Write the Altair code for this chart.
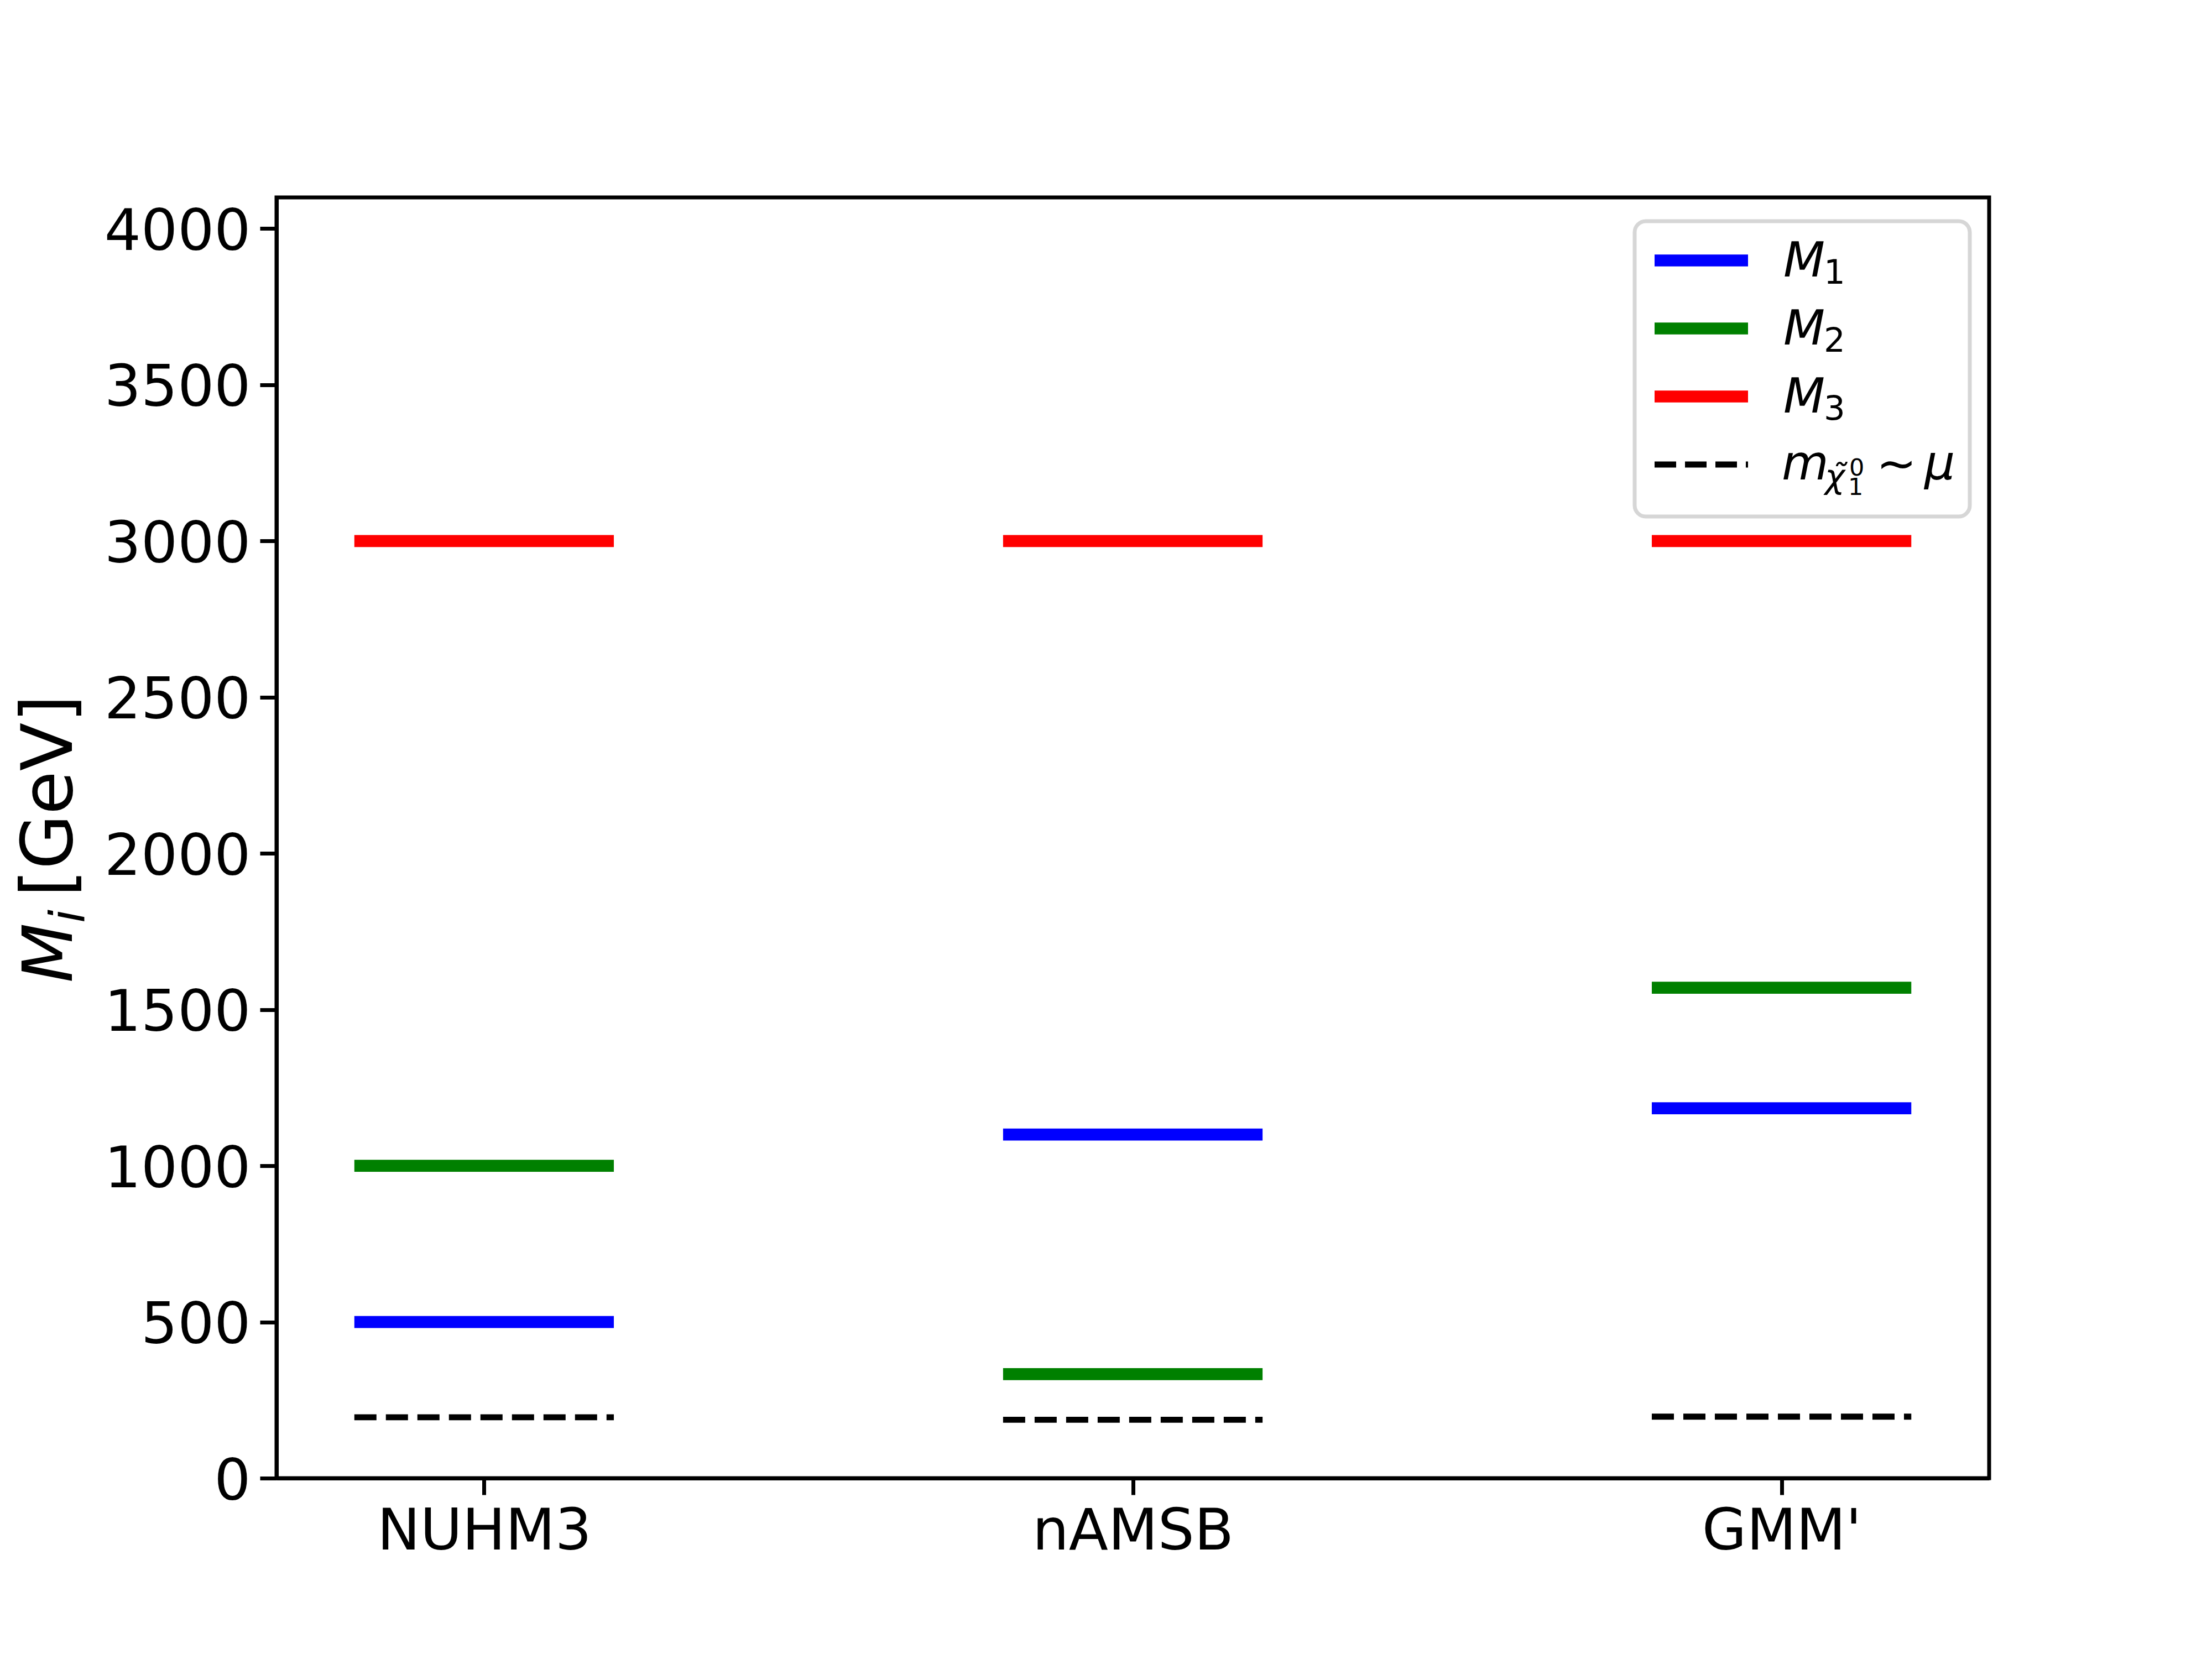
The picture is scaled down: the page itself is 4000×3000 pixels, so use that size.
import json
import pandas as pd
import altair as alt

# ---- data ----
models = ["NUHM3", "nAMSB", "GMM'"]
M1 = [500, 1100, 1184]
M2 = [1000, 333, 1570]
M3 = [3000, 3000, 3000]
mu = [195, 187, 197]

series_names = ["M1", "M2", "M3"]
series_colors = ["#0000ff", "#008000", "#ff0000"]

rows = []
for i, m in enumerate(models):
    for s, vals in zip(series_names, [M1, M2, M3]):
        rows.append({"model": m, "idx": i, "series": s, "value": vals[i]})
df_solid = pd.DataFrame(rows)
df_mu = pd.DataFrame({"model": models, "idx": list(range(len(models))), "value": mu})

FONT = "DejaVu Sans"
W, H = 3097, 2316
OX, OY = 500, 357  # page position of plot area (for decoration text)

xscale = alt.Scale(domain=[-0.32, 2.32], nice=False, zero=False)
yscale = alt.Scale(domain=[0, 4100], nice=False)

xaxis = alt.Axis(values=[0, 1, 2], labelExpr=json.dumps(models) + "[datum.value]",
                 title=None, grid=False, domainColor="black", domainWidth=7,
                 tickColor="black", tickWidth=7, tickSize=30, labelFont=FONT,
                 labelFontSize=104, labelColor="black", labelPadding=16,
                 labelFlush=False, labelOverlap=False, labelLimit=2000)
yaxis = alt.Axis(values=list(range(0, 4001, 500)), format="d", title=None, grid=False,
                 domainColor="black", domainWidth=7, tickColor="black", tickWidth=7,
                 tickSize=30, labelFont=FONT, labelFontSize=104, labelColor="black",
                 labelPadding=17, labelOffset=7, labelOverlap=False, labelFlush=False,
                 labelLimit=2000)

base = alt.Chart(df_solid).transform_calculate(
    xlo="datum.idx - 0.2", xhi="datum.idx + 0.2")

solid = base.mark_rule(strokeWidth=21.7).encode(
    x=alt.X("xlo:Q", scale=xscale, axis=xaxis),
    x2="xhi:Q",
    y=alt.Y("value:Q", scale=yscale, axis=yaxis),
    color=alt.Color("series:N", scale=alt.Scale(domain=series_names, range=series_colors),
                    legend=None),
)

dashed = alt.Chart(df_mu).transform_calculate(
    xlo="datum.idx - 0.2", xhi="datum.idx + 0.2"
).mark_rule(strokeWidth=10.85, strokeDash=[40, 17], color="black").encode(
    x=alt.X("xlo:Q", scale=xscale),
    x2="xhi:Q",
    y=alt.Y("value:Q", scale=yscale),
)

one = pd.DataFrame({"k": [0]})


def txt(s, px, py, size, italic=False, angle=0, align="left"):
    kw = dict(text=s, font=FONT, fontSize=size, color="black", align=align,
              baseline="alphabetic")
    if italic:
        kw["fontStyle"] = "italic"
    if angle:
        kw["angle"] = angle
    return alt.Chart(one).mark_text(**kw).encode(
        x=alt.value(px - OX), y=alt.value(py - OY))


def rule(x1, x2, py, color, width, dash=None):
    kw = dict(color=color, strokeWidth=width)
    if dash:
        kw["strokeDash"] = dash
    return alt.Chart(one).mark_rule(**kw).encode(
        x=alt.value(x1 - OX), x2=alt.value(x2 - OX), y=alt.value(py - OY))


legend_box = alt.Chart(one).mark_rect(
    fill="white", fillOpacity=0.8, stroke="#d6d6d6", strokeWidth=7, cornerRadius=20
).encode(x=alt.value(2956 - OX), x2=alt.value(3562 - OX),
         y=alt.value(400 - OY), y2=alt.value(934 - OY))

layers = [solid, dashed, legend_box]

# legend entries
centers = [471, 594, 717, 840]
for k, (c, col) in enumerate(zip(centers[:3], series_colors)):
    layers.append(rule(2992, 3161, c, col, 21.7))
    layers.append(txt("M", 3225, c + 29, 87, italic=True))
    layers.append(txt(str(k + 1), 3298, c + 42, 61))
layers.append(rule(2992, 3161, centers[3], "black", 10.85, dash=[39, 16]))
layers.append(txt("m", 3222, 867, 87, italic=True))
layers.append(txt("χ", 3300, 882, 61, italic=True))
layers.append(txt("˜", 3325, 882, 61, italic=True, align="center"))
layers.append(txt("0", 3344, 860, 43))
layers.append(txt("1", 3342, 895, 43))
layers.append(txt("∼", 3393, 868, 87))
layers.append(txt("μ", 3480, 867, 87, italic=True))

# y-axis title  M_i [GeV]
layers.append(txt("M", 130, 1777, 125, italic=True, angle=270))
layers.append(txt("i", 152, 1669, 87, italic=True, angle=270))
layers.append(txt("[GeV]", 130, 1622, 128, angle=270))

chart = alt.layer(*layers).properties(
    width=W, height=H,
    autosize=alt.AutoSizeParams(type="none"),
    padding={"left": 492, "top": 349, "right": 395, "bottom": 319},
    background="white",
).configure_view(stroke="black", strokeWidth=7)

chart.save("out.html", embed_options={"renderer": "svg", "actions": False})
